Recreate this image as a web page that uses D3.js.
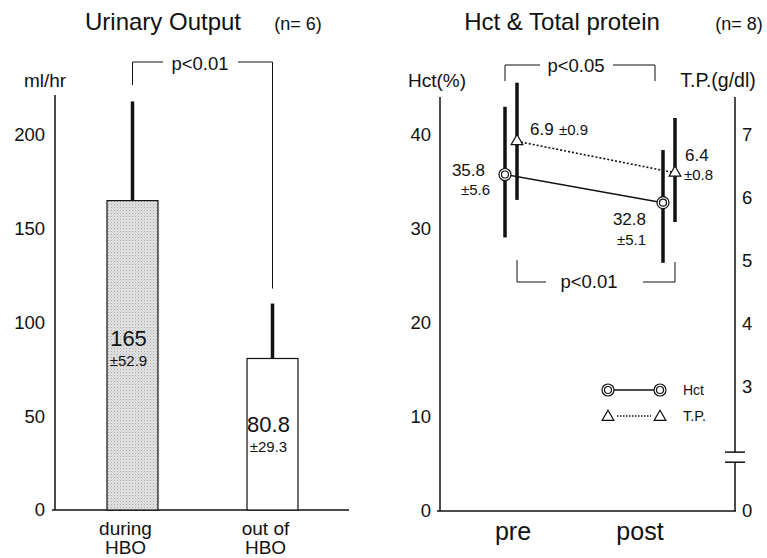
<!DOCTYPE html>
<html>
<head>
<meta charset="utf-8">
<script src="https://cdn.jsdelivr.net/npm/d3@7"></script>
<style>
  body { margin: 0; background: #fff; }
  svg text { font-family: "Liberation Sans", Arial, sans-serif; fill: #111; }
</style>
</head>
<body>
<svg id="chart" width="767" height="558"></svg>
<script>
// Urinary output (left panel)
const uoCategories = ["during HBO", "out of HBO"];
const uoLabelLines = [["during", "HBO"], ["out of", "HBO"]];
const uoMeans = [165, 80.8];
const uoSD = [52.9, 29.3];
const uoMeanText = ["165", "80.8"];
const uoSDText = ["±52.9", "±29.3"];
const uoTicks = [0, 50, 100, 150, 200];

// Hct & total protein (right panel)
const phases = ["pre", "post"];
const hctMeans = [35.8, 32.8];
const hctErrLow = [29.1, 26.4];
const hctErrHigh = [43.0, 38.4];
const tpMeans = [6.9, 6.4];
const tpErrLow = [5.97, 5.62];
const tpErrHigh = [7.83, 7.27];
const hctTicks = [0, 10, 20, 30, 40];
const tpTicks = [0, 3, 4, 5, 6, 7];

const svg = d3.select("#chart");
const ink = "#111";

const lab = (x, y, t, size, anchor) => svg.append("text").attr("x", x).attr("y", y)
  .attr("text-anchor", anchor || "start").style("font-size", size + "px").text(t);

// ---------- left panel ----------
const xUO = d3.scaleBand().domain(uoCategories).range([52, 353])
  .paddingInner(0.636).paddingOuter(0.393);
const yUO = d3.scaleLinear().domain([0, 200]).range([510, 135]);

const defs = svg.append("defs");
const pat = defs.append("pattern").attr("id", "stipple")
  .attr("width", 3).attr("height", 3).attr("patternUnits", "userSpaceOnUse");
pat.append("rect").attr("width", 3).attr("height", 3).attr("fill", "#e2e2e2");
pat.append("rect").attr("x", 0).attr("y", 0).attr("width", 1).attr("height", 1).attr("fill", "#a8a8a8");
pat.append("rect").attr("x", 1.5).attr("y", 1.5).attr("width", 1).attr("height", 1).attr("fill", "#c4c4c4");

lab(163, 30, "Urinary Output", 24, "middle");
lab(298, 30, "(n= 6)", 18, "middle");
lab(45, 87, "ml/hr", 19, "middle");

const axUO = svg.append("g").attr("transform", "translate(46,0)")
  .call(d3.axisLeft(yUO).tickValues(uoTicks).tickSize(0).tickPadding(1));
axUO.select(".domain").remove();
axUO.selectAll("text").style("font-size", "18.5px").attr("fill", ink);

// axis lines
svg.append("line").attr("x1", 55).attr("x2", 55).attr("y1", 95).attr("y2", yUO(0))
  .attr("stroke", ink).attr("stroke-width", 1.5);
svg.append("line").attr("x1", 52).attr("x2", 349).attr("y1", yUO(0)).attr("y2", yUO(0))
  .attr("stroke", ink).attr("stroke-width", 1.5);

// error bars
svg.selectAll(".uo-err").data(uoCategories).enter().append("line")
  .attr("x1", d => xUO(d) + xUO.bandwidth() / 2)
  .attr("x2", d => xUO(d) + xUO.bandwidth() / 2)
  .attr("y1", (d, i) => yUO(uoMeans[i]))
  .attr("y2", (d, i) => yUO(uoMeans[i] + uoSD[i]))
  .attr("stroke", ink).attr("stroke-width", 3.5);

// bars
svg.selectAll(".uo-bar").data(uoCategories).enter().append("rect")
  .attr("x", d => xUO(d))
  .attr("y", (d, i) => yUO(uoMeans[i]))
  .attr("width", xUO.bandwidth())
  .attr("height", (d, i) => yUO(0) - yUO(uoMeans[i]))
  .attr("fill", (d, i) => i === 0 ? "url(#stipple)" : "#fff")
  .attr("stroke", ink).attr("stroke-width", 1.2);

// value labels inside bars
const uoLabelY = [[346, 366], [432, 452]];
uoCategories.forEach((c, i) => {
  const cx = xUO(c) + xUO.bandwidth() / 2 - 4;
  lab(cx, uoLabelY[i][0], uoMeanText[i], 22, "middle");
  lab(cx, uoLabelY[i][1], uoSDText[i], 15, "middle");
  uoLabelLines[i].forEach((t, k) => lab(cx - 3, 535 + k * 19, t, 19, "middle"));
});

// significance bracket
const bx1 = xUO(uoCategories[0]) + xUO.bandwidth() / 2;
const bx2 = xUO(uoCategories[1]) + xUO.bandwidth() / 2;
const bracketUO = svg.append("g").attr("stroke", ink).attr("stroke-width", 1).attr("fill", "none");
bracketUO.append("path").attr("d", `M${bx1},85V62H163`);
bracketUO.append("path").attr("d", `M238,62H${bx2}V${yUO(uoMeans[1] + uoSD[1]) - 15}`);
lab(200, 70, "p<0.01", 18.5, "middle");

// ---------- right panel ----------
const xP = d3.scalePoint().domain(phases).range([511, 669]);
const yHct = d3.scaleLinear().domain([0, 40]).range([511, 135]);
const yTP = d3.scaleLinear().domain([0, 2, 7]).range([511, 450, 135]);
const hctOff = -6, tpOff = 6;

lab(562, 30, "Hct & Total protein", 24, "middle");
lab(739, 30, "(n= 8)", 18, "middle");
lab(437, 87, "Hct(%)", 19, "middle");
lab(718, 87, "T.P.(g/dl)", 19.5, "middle");

const axH = svg.append("g").attr("transform", "translate(432,0)")
  .call(d3.axisLeft(yHct).tickValues(hctTicks).tickSize(0).tickPadding(1));
axH.select(".domain").remove();
axH.selectAll("text").style("font-size", "18.5px").attr("fill", ink);

const axT = svg.append("g").attr("transform", "translate(740,0)")
  .call(d3.axisRight(yTP).tickValues(tpTicks).tickFormat(d3.format("d")).tickSize(0).tickPadding(2));
axT.select(".domain").remove();
axT.selectAll("text").style("font-size", "18.5px").attr("fill", ink);

const axisLines = svg.append("g").attr("stroke", ink).attr("stroke-width", 1.5).attr("fill", "none");
axisLines.append("line").attr("x1", 440).attr("x2", 440).attr("y1", 97).attr("y2", yHct(0));
axisLines.append("line").attr("x1", 437).attr("x2", 736).attr("y1", yHct(0)).attr("y2", yHct(0));
axisLines.append("line").attr("x1", 735).attr("x2", 735).attr("y1", 97).attr("y2", yTP(1.93));
axisLines.append("line").attr("x1", 735).attr("x2", 735).attr("y1", yTP(1.6)).attr("y2", yTP(0));
axisLines.append("line").attr("x1", 725).attr("x2", 745).attr("y1", yTP(1.93)).attr("y2", yTP(1.93));
axisLines.append("line").attr("x1", 725).attr("x2", 745).attr("y1", yTP(1.6)).attr("y2", yTP(1.6));

// phase labels
const xLabel = d3.scalePoint().domain(phases).range([513, 640]);
svg.selectAll(".phase").data(phases).enter().append("text")
  .attr("x", d => xLabel(d)).attr("y", 540).attr("text-anchor", "middle")
  .style("font-size", "25px").text(d => d);

// error bars
svg.selectAll(".hct-err").data(phases).enter().append("line")
  .attr("x1", d => xP(d) + hctOff).attr("x2", d => xP(d) + hctOff)
  .attr("y1", (d, i) => yHct(hctErrLow[i])).attr("y2", (d, i) => yHct(hctErrHigh[i]))
  .attr("stroke", ink).attr("stroke-width", 3.5);
svg.selectAll(".tp-err").data(phases).enter().append("line")
  .attr("x1", d => xP(d) + tpOff).attr("x2", d => xP(d) + tpOff)
  .attr("y1", (d, i) => yTP(tpErrLow[i])).attr("y2", (d, i) => yTP(tpErrHigh[i]))
  .attr("stroke", ink).attr("stroke-width", 3.5);

// lines
const hctLine = d3.line().x((d, i) => xP(phases[i]) + hctOff).y(d => yHct(d));
const tpLine = d3.line().x((d, i) => xP(phases[i]) + tpOff).y(d => yTP(d));
svg.append("path").attr("d", hctLine(hctMeans)).attr("fill", "none")
  .attr("stroke", ink).attr("stroke-width", 1.6);
svg.append("path").attr("d", tpLine(tpMeans)).attr("fill", "none")
  .attr("stroke", ink).attr("stroke-width", 1.6).attr("stroke-dasharray", "2,2");

// markers
function doubleCircle(g, x, y) {
  g.append("circle").attr("cx", x).attr("cy", y).attr("r", 6).attr("fill", "#fff")
    .attr("stroke", ink).attr("stroke-width", 1.2);
  g.append("circle").attr("cx", x).attr("cy", y).attr("r", 3.5).attr("fill", "#fff")
    .attr("stroke", ink).attr("stroke-width", 1.2);
}
const tri = d3.symbol().type(d3.symbolTriangle).size(60);
function triangle(g, x, y) {
  g.append("path").attr("d", tri()).attr("transform", `translate(${x},${y})`)
    .attr("fill", "#fff").attr("stroke", ink).attr("stroke-width", 1.2);
}
const marks = svg.append("g");
phases.forEach((p, i) => {
  doubleCircle(marks, xP(p) + hctOff, yHct(hctMeans[i]));
  triangle(marks, xP(p) + tpOff, yTP(tpMeans[i]));
});

// value labels
lab(530, 135, "6.9", 17); lab(559, 135, "±0.9", 15);
lab(485, 176, "35.8", 17, "end"); lab(490, 195, "±5.6", 15, "end");
lab(685, 161, "6.4", 17); lab(684, 180, "±0.8", 15);
lab(646, 225, "32.8", 17, "end"); lab(646, 245, "±5.1", 15, "end");

// brackets
const br = svg.append("g").attr("stroke", ink).attr("stroke-width", 1).attr("fill", "none");
const pre = xP("pre"), post = xP("post");
br.append("path").attr("d", `M${pre + hctOff},81V65H540`);
br.append("path").attr("d", `M613,65H${post - 14}V81`);
lab(576, 72, "p<0.05", 18.5, "middle");
br.append("path").attr("d", `M${pre + tpOff},260V282H546`);
br.append("path").attr("d", `M643,282H${post + tpOff}V262`);
lab(589, 288, "p<0.01", 18.5, "middle");

// legend
const lg = svg.append("g");
lg.append("line").attr("x1", 608).attr("x2", 660).attr("y1", 390).attr("y2", 390)
  .attr("stroke", ink).attr("stroke-width", 1.4);
doubleCircle(lg, 608, 390); doubleCircle(lg, 660, 390);
lg.append("line").attr("x1", 617).attr("x2", 651).attr("y1", 416).attr("y2", 416)
  .attr("stroke", ink).attr("stroke-width", 1.4).attr("stroke-dasharray", "1.5,1.5");
triangle(lg, 608, 417); triangle(lg, 660, 417);
lab(683, 395, "Hct", 14); lab(683, 421, "T.P.", 14.5);
</script>
</body>
</html>
